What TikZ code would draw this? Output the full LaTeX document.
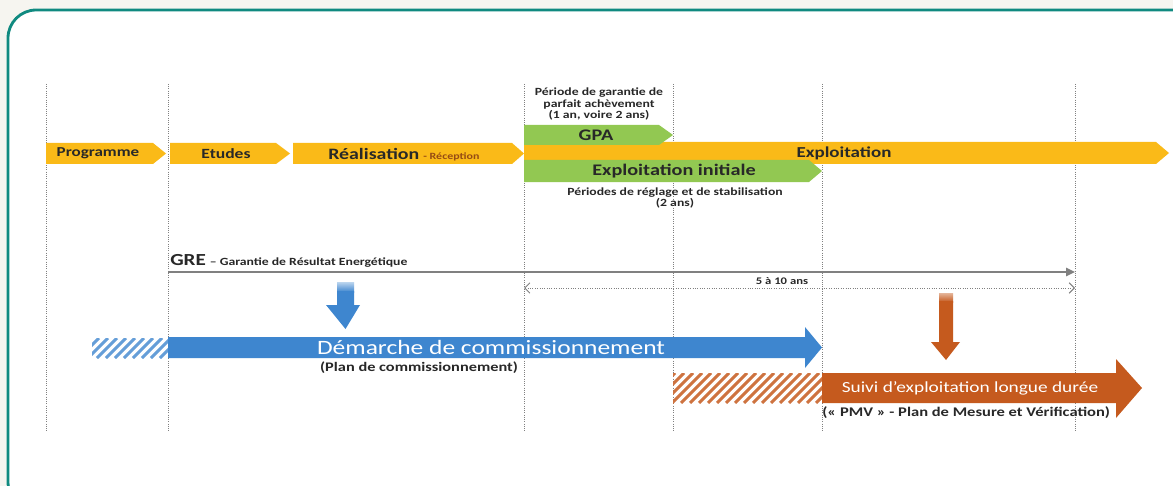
\documentclass[tikz,border=0pt]{standalone}
\usepackage{fontspec}
\setmainfont{Carlito}[FakeStretch=1.25]
\usetikzlibrary{arrows.meta, positioning}
\definecolor{phaseyellow}{RGB}{250,186,24}
\definecolor{gpagreen}{RGB}{146,200,82}
\definecolor{cxblue}{RGB}{62,134,207}
\definecolor{suiviorange}{RGB}{197,90,30}
\definecolor{grelinegray}{RGB}{128,128,128}
\definecolor{frameteal}{RGB}{16,138,128}
\definecolor{pagebeige}{RGB}{246,245,240}
\definecolor{textdark}{RGB}{40,40,40}
\definecolor{receptionbrown}{RGB}{150,75,20}

% flat-backed chevron: colour, x left, x body end, x tip, y top, y bottom
\newcommand{\phasearrow}[6]{%
  \fill[#1] (#2,#5) -- (#3,#5) -- (#4,{(#5+#6)/2}) -- (#3,#6) -- (#2,#6) -- cycle;}
\newcommand{\fsz}[1]{\fontsize{#1}{#1}\selectfont}

\begin{document}
\begin{tikzpicture}[
    x=0.025cm, y=-0.025cm,
    phase label/.style={font=\bfseries\fsz{10}, text=textdark, inner sep=0},
    small note/.style={font=\bfseries\fontsize{7.8}{8.4}\selectfont, text=textdark, align=center, inner sep=0},
    milestone line/.style={densely dotted, black!50, line width=0.6pt},
    white label/.style={text=white, inner sep=0}
]
\useasboundingbox (0,0) rectangle (1173,486);
\clip (0,0) rectangle (1173,486);

% Frame
\fill[pagebeige] (0,0) rectangle (1173,486);
\draw[frameteal, line width=2pt, fill=white, rounded corners=20pt] (8,10) rectangle (1200,510);

% Milestones
\foreach \x/\name in {46/prog, 168/etud, 524/recep, 673/gpa, 822/init, 1075/fin} {
    \coordinate (top-\name) at (\x,84);
    \coordinate (bot-\name) at (\x,432);
    \draw[milestone line] (top-\name) -- (bot-\name);
}

% Phases
\phasearrow{phaseyellow}{46}{153}{166}{143}{164}
\phasearrow{phaseyellow}{170}{276}{290}{143}{164}
\phasearrow{phaseyellow}{293}{512}{524}{143}{164}
\phasearrow{phaseyellow}{524}{1156}{1169}{142}{164}
\phasearrow{gpagreen}{524}{659}{673}{125}{145}
\phasearrow{gpagreen}{524}{809}{822}{160}{182}

\node[phase label, font=\bfseries\fsz{9.7}] (programme) at (98,153.5) {Programme};
\node[phase label] (etudes) at (226,153.5) {Etudes};
\node[phase label, font=\bfseries\fsz{11.3}, anchor=west] (realisation) at (328,153.5) {Réalisation};
\node[font=\bfseries\fsz{6.8}, text=receptionbrown, anchor=base west, inner sep=0]
    (reception) at ([xshift=2.5pt]realisation.base east) {- Réception};
\node[phase label, font=\bfseries\fsz{10.8}] (exploitation) at (844,153.5) {Exploitation};
\node[phase label, font=\bfseries\fsz{11.5}] (gpaLabel) at (596,135) {GPA};
\node[phase label, font=\bfseries\fsz{11.5}] (initiale) at (674,171) {Exploitation initiale};

\node[small note] (garantie) at (599,104) {Période de garantie de\\parfait achèvement\\(1 an, voire 2 ans)};
\node[small note] (reglage) at (675,198) {Périodes de réglage et de stabilisation\\(2 ans)};

% GRE
\coordinate (greStart) at (168,272);
\coordinate (greEnd) at (1075,272);
\draw[grelinegray, line width=1.6pt, -{Triangle[length=2.2mm, width=2mm]}] (greStart) -- (greEnd);
\node[anchor=base west, inner sep=0, text=textdark, font=\bfseries] (greLabel) at (170,265)
    {{\fsz{12}GRE} {\fsz{7.8}-- Garantie de Résultat Energétique}};

\coordinate (dureeStart) at (524,288);
\coordinate (dureeEnd) at (1075,288);
\draw[grelinegray, densely dotted, line width=0.7pt, {Straight Barb[length=1.3mm]}-{Straight Barb[length=1.3mm]}] (dureeStart) -- (dureeEnd);
\node[small note, font=\bfseries\fsz{7.2}] (duree) at (782,281) {5 à 10 ans};

% Commissioning
\shade[top color=cxblue!35, bottom color=cxblue] (337,282) rectangle (354,292);
\fill[cxblue] (337,291) -- (354,291) -- (354,305) -- (360,305) -- (345.5,329) -- (326,305) -- (337,305) -- cycle;
\begin{scope}
    \clip (92,338) rectangle (168,358);
    \foreach \k in {0,...,11}
        \draw[cxblue!80, line width=2.2pt] (70+\k*9,358) -- ++(20,-20);
\end{scope}
\fill[cxblue] (168,337) -- (805,337) -- (805,327) -- (822,347.5) -- (805,368) -- (805,358) -- (168,358) -- cycle;
\node[white label, font=\fsz{14.5}] (demarche) at (491,347.5) {Démarche de commissionnement};
\node[small note, font=\bfseries\fsz{9.3}] (plan) at (419,368) {(Plan de commissionnement)};

% Long-term follow-up
\shade[top color=suiviorange!45, bottom color=suiviorange] (939,293) rectangle (953,302);
\fill[suiviorange] (939,301) -- (953,301) -- (953,342) -- (960,342) -- (946,360) -- (931,342) -- (939,342) -- cycle;
\begin{scope}
    \clip (673,373) rectangle (822,403);
    \foreach \k in {0,...,20}
        \draw[suiviorange!85, line width=2.2pt] (645+\k*9,403) -- ++(30,-30);
\end{scope}
\fill[suiviorange] (822,373) -- (1116,373) -- (1116,359) -- (1142,388) -- (1116,418) -- (1116,403) -- (822,403) -- cycle;
\node[white label, font=\fsz{11}] (suivi) at (970,388) {Suivi d’exploitation longue durée};
\node[small note, font=\bfseries\fsz{9.4}, anchor=west] (pmv) at (822,413) {(« PMV » - Plan de Mesure et Vérification)};

\end{tikzpicture}
\end{document}
